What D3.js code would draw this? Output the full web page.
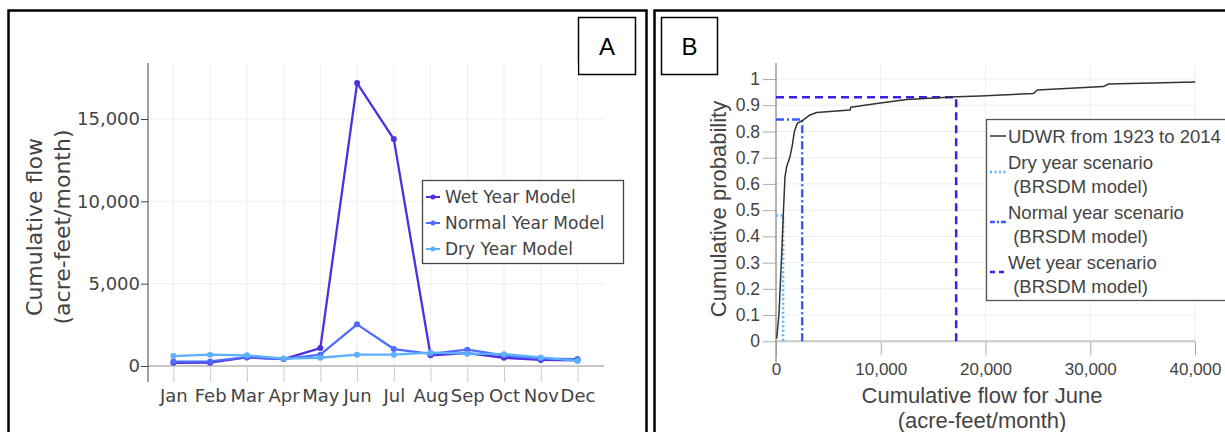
<!DOCTYPE html>
<html>
<head>
<meta charset="utf-8">
<script src="https://cdn.jsdelivr.net/npm/d3@7"></script>
<style>
body{margin:0;background:#fff;}
</style>
</head>
<body>
<div id="vis-container"></div>
<script>
// panel A: monthly flow per scenario
months = ["Jan","Feb","Mar","Apr","May","Jun","Jul","Aug","Sep","Oct","Nov","Dec"]
wetModel = [190, 200, 520, 420, 1090, 17180, 13780, 650, 780, 500, 370, 350]
normalModel = [270, 280, 540, 420, 690, 2530, 1030, 740, 990, 640, 450, 420]
dryModel = [600, 690, 650, 450, 500, 690, 690, 810, 750, 720, 520, 310]
flowTicks = [0, 5000, 10000, 15000]
seriesNames = ["Wet Year Model", "Normal Year Model", "Dry Year Model"]

// panel B: June CDF from UDWR record + scenario markers
cdfFlow = [70, 290, 573, 700, 860, 1020, 1340, 1560, 1750, 2035, 2610, 3250, 3890, 7070, 7140, 9620, 12490, 17260, 19490, 24580, 24960, 31270, 31750, 40030]
cdfProb = [0.011, 0.107, 0.36, 0.488, 0.628, 0.666, 0.704, 0.748, 0.799, 0.831, 0.844, 0.863, 0.872, 0.882, 0.892, 0.907, 0.922, 0.932, 0.935, 0.945, 0.958, 0.971, 0.981, 0.989]
scenarioFlow = [680, 2500, 17200]
scenarioProb = [0.48, 0.846, 0.93]
probTicks = [0, 0.1, 0.2, 0.3, 0.4, 0.5, 0.6, 0.7, 0.8, 0.9, 1]
juneTicks = [0, 10000, 20000, 30000, 40000]

colors = {"wet": "#4f30e0", "normal": "#4d6bff", "dry": "#5cb0ff"}
refStyle = [
  {"color": "#5ab4ff", "dash": "2,2.5"},
  {"color": "#3a5cff", "dash": "8,3,2,3"},
  {"color": "#3d20e6", "dash": "8,5"}
]

svg = d3.select("#vis-container").append("svg").attr("width", 1225).attr("height", 432)
fontA = "'DejaVu Sans', Verdana, sans-serif"
fontB = "'Liberation Sans', Arial, sans-serif"

// panel frames
svg.append("rect").attr("x", 8.5).attr("y", 10.5).attr("width", 638).attr("height", 450)
  .attr("fill", "none").attr("stroke", "#000").attr("stroke-width", 2.5)
svg.append("rect").attr("x", 654.5).attr("y", 10.5).attr("width", 620).attr("height", 450)
  .attr("fill", "none").attr("stroke", "#000").attr("stroke-width", 2.5)

function panelLabel(x, y, w, h, txt){
  svg.append("rect").attr("x", x).attr("y", y).attr("width", w).attr("height", h)
    .attr("fill", "#fff").attr("stroke", "#000").attr("stroke-width", 1.5)
  svg.append("text").attr("x", x + w / 2).attr("y", y + h / 2).attr("dy", "0.36em")
    .attr("text-anchor", "middle").style("font-family", fontB).style("font-size", "24px").text(txt)
}
panelLabel(578.5, 17.5, 57, 57, "A")
panelLabel(661.5, 17.5, 56, 57, "B")

function drawPanelA(){
  let g = svg.append("g")
  let x = d3.scalePoint().domain(months).range([173.4, 577.5])
  let y = d3.scaleLinear().domain([0, 18400]).range([366, 63])

  g.selectAll(".hgrid").data(flowTicks.slice(1)).enter().append("line")
    .attr("x1", 148).attr("x2", 604).attr("y1", d => y(d)).attr("y2", d => y(d))
    .attr("stroke", "#eee").attr("stroke-width", 1)
  g.selectAll(".vgrid").data(months).enter().append("line")
    .attr("x1", d => x(d)).attr("x2", d => x(d)).attr("y1", 63).attr("y2", 366)
    .attr("stroke", "#eee").attr("stroke-width", 1)

  let xAxis = g.append("g").attr("transform", "translate(0," + y(0) + ")")
    .call(d3.axisBottom(x).tickSize(16).tickPadding(7))
  xAxis.select(".domain").remove()
  xAxis.selectAll("line").attr("stroke", "#ccc")
  xAxis.selectAll("text").style("font-family", fontA).style("font-size", "18px").attr("fill", "#444")

  g.append("line").attr("x1", 148).attr("x2", 604).attr("y1", y(0)).attr("y2", y(0))
    .attr("stroke", "#c8c8c8").attr("stroke-width", 2)

  let yAxis = g.append("g").attr("transform", "translate(148,0)")
    .call(d3.axisLeft(y).tickValues(flowTicks).tickFormat(d3.format(",")).tickSize(7).tickPadding(1))
  yAxis.select(".domain").remove()
  yAxis.selectAll("line").attr("stroke", "#444")
  yAxis.selectAll("text").style("font-family", fontA).style("font-size", "18px").attr("fill", "#444")
  g.append("line").attr("x1", 148).attr("x2", 148).attr("y1", 63).attr("y2", 382)
    .attr("stroke", "#444").attr("stroke-width", 1)

  let title = g.append("text").attr("transform", "translate(48,227) rotate(-90)")
    .attr("text-anchor", "middle").style("font-family", fontA).style("font-size", "22px").attr("fill", "#444")
  title.append("tspan").attr("x", 0).attr("dy", "-0.28em").text("Cumulative flow")
  title.append("tspan").attr("x", 0).attr("dy", "1.3em").text("(acre-feet/month)")

  let series = [
    {"name": seriesNames[0], "values": wetModel, "color": colors.wet},
    {"name": seriesNames[1], "values": normalModel, "color": colors.normal},
    {"name": seriesNames[2], "values": dryModel, "color": colors.dry}
  ]
  let line = d3.line().x((d, i) => x(months[i])).y(d => y(d))
  series.forEach(function(s){
    g.append("path").attr("d", line(s.values)).attr("fill", "none")
      .attr("stroke", s.color).attr("stroke-width", 2.3).attr("stroke-linejoin", "round")
    g.selectAll(null).data(s.values).enter().append("circle")
      .attr("cx", (d, i) => x(months[i])).attr("cy", d => y(d)).attr("r", 3)
      .attr("fill", s.color)
  })

  // legend
  let lg = g.append("g")
  lg.append("rect").attr("x", 422.5).attr("y", 180.5).attr("width", 201).attr("height", 83)
    .attr("fill", "#fff").attr("stroke", "#444").attr("stroke-width", 1.3)
  series.forEach(function(s, i){
    let ly = 197 + i * 26
    lg.append("line").attr("x1", 426).attr("x2", 440).attr("y1", ly).attr("y2", ly)
      .attr("stroke", s.color).attr("stroke-width", 2)
    lg.append("circle").attr("cx", 433).attr("cy", ly).attr("r", 2.5).attr("fill", s.color)
    lg.append("text").attr("x", 445).attr("y", ly).attr("dy", "0.36em")
      .style("font-family", fontA).style("font-size", "17px").attr("fill", "#444").text(s.name)
  })
}

function drawPanelB(){
  let g = svg.append("g")
  let x = d3.scaleLinear().domain([0, 40000]).range([776, 1195])
  let y = d3.scaleLinear().domain([0, 1]).range([341.3, 79])

  g.selectAll(".hgrid").data(probTicks.slice(1)).enter().append("line")
    .attr("x1", 776).attr("x2", 1195).attr("y1", d => y(d)).attr("y2", d => y(d))
    .attr("stroke", "#eee").attr("stroke-width", 1)
  g.selectAll(".vgrid").data(juneTicks.slice(1)).enter().append("line")
    .attr("x1", d => x(d)).attr("x2", d => x(d)).attr("y1", 63).attr("y2", y(0))
    .attr("stroke", "#eee").attr("stroke-width", 1)

  let xAxis = g.append("g").attr("transform", "translate(0," + y(0) + ")")
    .call(d3.axisBottom(x).tickValues(juneTicks).tickFormat(d3.format(",")).tickSize(14).tickPadding(7.5))
  xAxis.select(".domain").remove()
  xAxis.selectAll("line").attr("stroke", "#aaa")
  xAxis.selectAll("text").style("font-family", fontB).style("font-size", "17px").attr("fill", "#444")

  g.append("line").attr("x1", 776).attr("x2", 1195).attr("y1", y(0)).attr("y2", y(0))
    .attr("stroke", "#c8c8c8").attr("stroke-width", 2)

  let yAxis = g.append("g").attr("transform", "translate(776,0)")
    .call(d3.axisLeft(y).tickValues(probTicks).tickFormat(d => (d == 0 || d == 1) ? d : d3.format(".1f")(d)).tickSize(13).tickPadding(3))
  yAxis.select(".domain").remove()
  yAxis.selectAll("line").attr("stroke", "#aaa")
  yAxis.selectAll("text").style("font-family", fontB).style("font-size", "17.5px").attr("fill", "#444")
  g.append("line").attr("x1", 776).attr("x2", 776).attr("y1", 63).attr("y2", 362)
    .attr("stroke", "#999").attr("stroke-width", 1.5)

  g.append("text").attr("transform", "translate(718,209) rotate(-90)").attr("dy", "0.36em")
    .attr("text-anchor", "middle").style("font-family", fontB).style("font-size", "22px").attr("fill", "#444")
    .text("Cumulative probability")
  let xt = g.append("text").attr("text-anchor", "middle")
    .style("font-family", fontB).style("font-size", "22px").attr("fill", "#444")
  xt.append("tspan").attr("x", 982).attr("y", 395).attr("dy", "0.36em").text("Cumulative flow for June")
  xt.append("tspan").attr("x", 982).attr("y", 420).attr("dy", "0.36em").text("(acre-feet/month)")

  // scenario reference lines: horizontal to curve, then down to zero
  let refLine = d3.line().x(d => x(d[0])).y(d => y(d[1]))
  scenarioFlow.forEach(function(f, i){
    g.append("path").attr("d", refLine([[0, scenarioProb[i]], [f, scenarioProb[i]], [f, 0]]))
      .attr("fill", "none").attr("stroke", refStyle[i].color).attr("stroke-width", 2.5)
      .attr("stroke-dasharray", refStyle[i].dash)
  })

  let cdf = cdfFlow.map((d, i) => [d, cdfProb[i]])
  g.append("path").attr("d", refLine(cdf)).attr("fill", "none")
    .attr("stroke", "#333").attr("stroke-width", 1.5).attr("stroke-linejoin", "round")

  // legend
  let lg = g.append("g")
  lg.append("rect").attr("x", 986.5).attr("y", 119.5).attr("width", 260).attr("height", 181)
    .attr("fill", "#fff").attr("stroke", "#555").attr("stroke-width", 1.3)
  let entries = [
    {"lines": ["UDWR from 1923 to 2014"], "y": 136, "sy": 136, "color": "#333", "dash": null, "w": 1.5},
    {"lines": ["Dry year scenario", " (BRSDM model)"], "y": 162, "sy": 172, "color": refStyle[0].color, "dash": refStyle[0].dash, "w": 2.5},
    {"lines": ["Normal year scenario", " (BRSDM model)"], "y": 212, "sy": 222, "color": refStyle[1].color, "dash": "5,2,2,2", "w": 2.5},
    {"lines": ["Wet year scenario", " (BRSDM model)"], "y": 262, "sy": 272, "color": refStyle[2].color, "dash": "5,4", "w": 2.5}
  ]
  entries.forEach(function(e){
    lg.append("line").attr("x1", 990).attr("x2", 1006).attr("y1", e.sy).attr("y2", e.sy)
      .attr("stroke", e.color).attr("stroke-width", e.w).attr("stroke-dasharray", e.dash)
    e.lines.forEach(function(t, k){
      lg.append("text").attr("x", 1008).attr("y", e.y + k * 24).attr("dy", "0.36em")
        .attr("xml:space", "preserve").style("white-space", "pre")
        .style("font-family", fontB).style("font-size", "18.5px").attr("fill", "#444").text(t)
    })
  })
}

drawPanelA()
drawPanelB()
</script>
</body>
</html>
